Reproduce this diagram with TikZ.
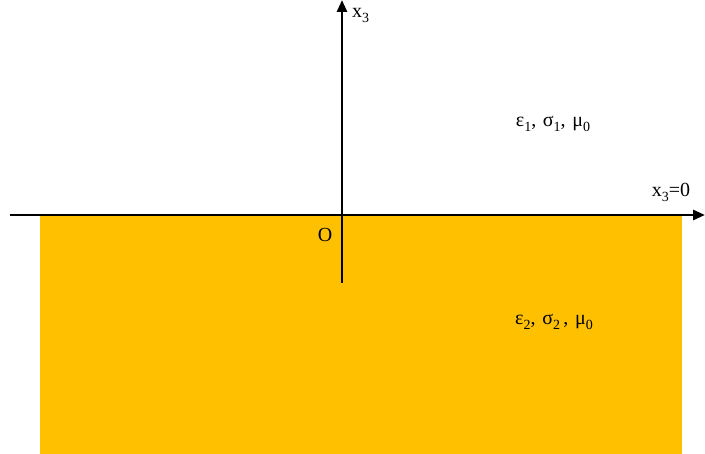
\documentclass[tikz,border=0pt]{standalone}
\usepackage{fontspec}
\setmainfont{Liberation Serif}
\usetikzlibrary{arrows.meta}
\definecolor{gold}{HTML}{FFC000}
\newcommand{\sbs}[1]{\raisebox{-0.25em}{\fontsize{14}{15}\selectfont #1}}
\begin{document}
\begin{tikzpicture}[x=1pt,y=-1pt,
  axis/.style={line width=2.7pt,-{Triangle[length=12pt,width=10pt]}},
  lbl/.style={font=\fontsize{20}{22}\selectfont,inner sep=0pt}]
\useasboundingbox (0,0) rectangle (705,454);
\fill[gold] (40,215) rectangle (682,454);
\coordinate (hl) at (10,215);
\coordinate (hr) at (705,215);
\coordinate (vb) at (342,283);
\coordinate (vt) at (342,0);
\draw[axis] (hl) -- (hr);
\draw[axis] (vb) -- (vt);
\node[lbl,anchor=west] (x3) at (352,15) {x\sbs{3}};
\node[lbl] (m1) at (553,124) {ε\sbs{1},\,\,σ\sbs{1},\,\,μ\sbs{0}};
\node[lbl] (x30) at (671,192) {x\sbs{3}=0};
\node[lbl] (o) at (325,235) {O};
\node[lbl] (m2) at (554,322) {ε\sbs{2},\,\,σ\sbs{2}\,,\,\,μ\sbs{0}};
\end{tikzpicture}
\end{document}
